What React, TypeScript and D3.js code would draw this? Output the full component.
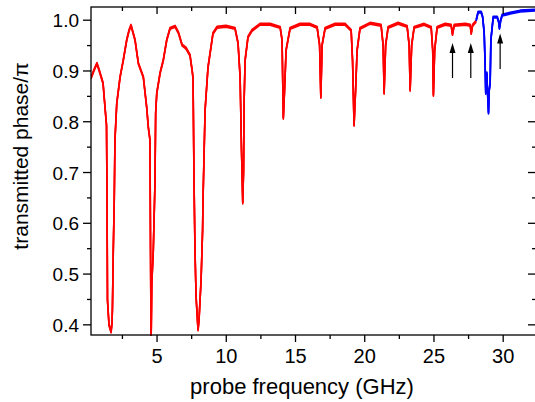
import { useEffect, useRef } from 'react';
import * as d3 from 'd3';

// red trace: frequency (GHz) and phase/pi
const redFreq = [
  0.23, 0.45, 0.66, 0.88, 1.10, 1.24, 1.35, 1.39, 1.42, 1.53, 1.68, 1.75, 1.78, 1.84, 1.91, 1.96,
  2.09, 2.33, 2.56, 2.81, 2.98, 3.12, 3.26, 3.41, 3.65, 4.01, 4.25, 4.37, 4.49, 4.53, 4.57, 4.62,
  4.73, 4.85, 4.90, 4.98, 5.22, 5.45, 5.70, 5.94, 6.30, 6.55, 6.81, 7.09, 7.38, 7.53, 7.60, 7.67,
  7.74, 7.82, 7.96, 8.03, 8.18, 8.29, 8.32, 8.47, 8.68, 9.04, 9.33, 9.98, 10.63, 10.85, 11.0, 11.10,
  11.19, 11.25, 11.29, 11.36, 11.57, 11.86, 12.44, 13.16, 13.89, 14.03, 14.12, 14.21, 14.32, 14.61,
  15.33, 16.05, 16.56, 16.74, 16.83, 16.92, 17.14, 17.86, 18.58, 19.02, 19.12, 19.23, 19.34, 19.45,
  19.66, 20.39, 21.18, 21.33, 21.40, 21.51, 21.69, 22.41, 23.06, 23.21, 23.28, 23.39, 23.57, 24.29,
  24.80, 24.91, 24.96, 25.05, 25.23, 25.81, 26.24, 26.34, 26.46, 27.26, 27.62, 27.69, 27.79, 28.05,
];
const redPhase = [
  0.886, 0.902, 0.915, 0.896, 0.876, 0.829, 0.793, 0.646, 0.449, 0.400, 0.386, 0.405, 0.435, 0.547, 0.646, 0.764,
  0.836, 0.888, 0.921, 0.961, 0.980, 0.990, 0.976, 0.961, 0.915, 0.888, 0.829, 0.789, 0.764, 0.547, 0.360, 0.482,
  0.547, 0.679, 0.817, 0.856, 0.896, 0.921, 0.961, 0.984, 0.988, 0.975, 0.951, 0.945, 0.931, 0.902, 0.886, 0.685,
  0.547, 0.455, 0.390, 0.409, 0.488, 0.587, 0.646, 0.823, 0.907, 0.974, 0.986, 0.988, 0.984, 0.955, 0.888, 0.744,
  0.640, 0.705, 0.843, 0.921, 0.967, 0.980, 0.992, 0.992, 0.986, 0.961, 0.807, 0.862, 0.941, 0.984,
  0.992, 0.992, 0.986, 0.951, 0.848, 0.951, 0.984, 0.992, 0.992, 0.980, 0.921, 0.793, 0.862, 0.941,
  0.984, 0.994, 0.990, 0.951, 0.856, 0.951, 0.986, 0.994, 0.988, 0.951, 0.862, 0.951, 0.986, 0.992,
  0.986, 0.941, 0.852, 0.941, 0.986, 0.992, 0.990, 0.972, 0.990, 0.992, 0.990, 0.974, 0.990, 0.998,
];

// blue trace
const blueFreq = [
  28.05, 28.19, 28.41, 28.52, 28.63, 28.70, 28.74, 28.82, 28.88, 28.94, 28.99, 29.06, 29.11, 29.28,
  29.57, 29.68, 29.73, 29.82, 29.93, 30.51, 31.23, 32.4,
];
const bluePhase = [
  1.000, 1.016, 1.016, 1.006, 0.974, 0.907, 0.856, 0.896, 0.852, 0.817, 0.862, 0.876, 0.961, 1.006,
  1.006, 0.996, 0.984, 1.000, 1.010, 1.014, 1.018, 1.020,
];

// arrows: position, tail and tip
const arrowFreq = [26.34, 27.66, 29.78];
const arrowTail = [0.886, 0.886, 0.904];
const arrowTip = [0.955, 0.955, 0.974];

const yMajor = [0.4, 0.5, 0.6, 0.7, 0.8, 0.9, 1.0];
const yMinor = [0.45, 0.55, 0.65, 0.75, 0.85, 0.95];
const xMajor = [5, 10, 15, 20, 25, 30];
const xMinor = [2.5, 7.5, 12.5, 17.5, 22.5, 27.5];

export default function App() {
  const svgRef = useRef<SVGSVGElement>(null);

  useEffect(() => {
    const W = 535;
    const H = 402;
    const left = 91, right = 536, top = 7, bottom = 335;
    const svg = d3.select(svgRef.current);
    svg.selectAll('*').remove();
    svg.attr('width', W).attr('height', H);

    const x = d3.scaleLinear().domain([0.23, 32.37]).range([left, right]);
    const y = d3.scaleLinear().domain([0.38, 1.026]).range([bottom, top]);

    svg.append('defs').append('clipPath').attr('id', 'plotclip')
      .append('rect').attr('x', left).attr('y', top).attr('width', right - left).attr('height', bottom - top);

    const line = d3.line();

    const drawTrace = (fs: number[], ps: number[], color: string) => {
      const pts: [number, number][] = fs.map((f, i) => [x(f), y(ps[i])]);
      // a few slightly offset passes give the noisy band its height
      [-0.9, 0, 0.9].forEach(off => {
        svg.append('path')
          .attr('clip-path', 'url(#plotclip)')
          .attr('transform', `translate(0,${off})`)
          .attr('d', line(pts))
          .attr('fill', 'none')
          .attr('stroke', color)
          .attr('stroke-width', 1.6)
          .attr('stroke-linejoin', 'round');
      });
    };
    drawTrace(redFreq, redPhase, '#ff0000');
    drawTrace(blueFreq, bluePhase, '#0000ff');

    // arrows
    arrowFreq.forEach((f, i) => {
      const ax = x(f);
      const y0 = y(arrowTail[i]);
      const y1 = y(arrowTip[i]);
      svg.append('line')
        .attr('x1', ax).attr('x2', ax).attr('y1', y0).attr('y2', y1 + 8)
        .attr('stroke', '#000').attr('stroke-width', 1.2);
      svg.append('path')
        .attr('d', `M${ax},${y1} L${ax - 3},${y1 + 10} L${ax + 3},${y1 + 10} Z`)
        .attr('fill', '#000');
    });

    // frame
    svg.append('rect')
      .attr('x', left).attr('y', top).attr('width', right - left).attr('height', bottom - top)
      .attr('fill', 'none').attr('stroke', '#000').attr('stroke-width', 1.3);

    const tick = (x1: number, y1: number, x2: number, y2: number) =>
      svg.append('line').attr('x1', x1).attr('y1', y1).attr('x2', x2).attr('y2', y2)
        .attr('stroke', '#000').attr('stroke-width', 1.3);

    yMajor.forEach(v => { tick(left - 8, y(v), left, y(v)); tick(right, y(v), right - 8, y(v)); });
    yMinor.forEach(v => { tick(left - 4, y(v), left, y(v)); tick(right, y(v), right - 4, y(v)); });
    xMajor.forEach(v => { tick(x(v), bottom, x(v), bottom + 7); tick(x(v), top, x(v), top + 7); });
    xMinor.forEach(v => { tick(x(v), bottom, x(v), bottom + 4); tick(x(v), top, x(v), top + 4); });

    const font = 'Liberation Sans, Arial, sans-serif';
    yMajor.forEach(v => {
      svg.append('text')
        .attr('x', left - 12).attr('y', y(v) + 7)
        .attr('text-anchor', 'end')
        .attr('font-family', font).attr('font-size', 19)
        .text(d3.format('.1f')(v));
    });
    xMajor.forEach(v => {
      svg.append('text')
        .attr('x', x(v)).attr('y', 363)
        .attr('text-anchor', 'middle')
        .attr('font-family', font).attr('font-size', 20)
        .text(String(v));
    });

    svg.append('text')
      .attr('x', 302).attr('y', 394)
      .attr('text-anchor', 'middle')
      .attr('font-family', font).attr('font-size', 22)
      .text('probe frequency (GHz)');

    svg.append('text')
      .attr('transform', 'translate(28,156) rotate(-90)')
      .attr('text-anchor', 'middle')
      .attr('font-family', font).attr('font-size', 21)
      .text('transmitted phase/π');
  }, []);

  return (
    <svg ref={svgRef} style={{ position: 'absolute', left: 0, top: 0, background: '#fff' }} />
  );
}
